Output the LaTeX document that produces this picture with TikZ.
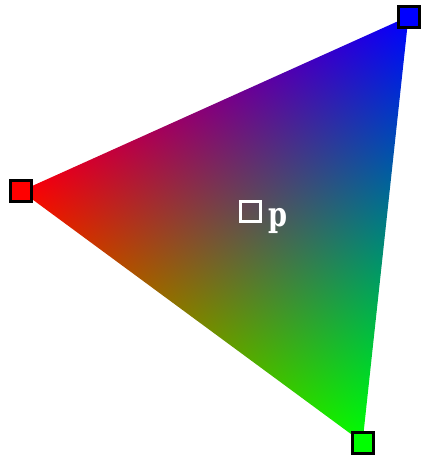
\documentclass[tikz,border=0pt]{standalone}
\usepackage{fontspec}
\newfontfamily\pfont{DejaVu Serif}
\pgfdeclarefunctionalshading{bary}{\pgfpointorigin}{\pgfpoint{100bp}{100bp}}{}{
2 copy 0.00249554 mul exch -0.0210222 mul add 1.3895085 add
3 1 roll
2 copy -0.0210222 mul exch 0.00861114 mul add 0.930832 add
3 1 roll
0.01852668 mul exch 0.01241106 mul add -1.3203405 add
}
\begin{document}
\begin{tikzpicture}[x=1pt,y=-1pt,
  vtx/.style={draw=black,line width=3pt,minimum size=21pt,inner sep=0pt,outer sep=0pt},
  probe/.style={draw=white,line width=3pt,minimum size=20pt,inner sep=0pt,outer sep=0pt}]
\useasboundingbox (0,0) rectangle (428,458);
\coordinate (R) at (21,191);
\coordinate (B) at (408.5,16.5);
\coordinate (G) at (362.5,442.5);
\shade[shading=bary] (R) -- (B) -- (G) -- cycle;
\node[vtx,fill=red] (vr) at (R) {};
\node[vtx,fill=blue] (vb) at (B) {};
\node[vtx,fill=green] (vg) at (G) {};
\node[probe] (pp) at (250.5,211.5) {};
\node[anchor=base west,inner sep=0pt,text=white,font=\pfont\bfseries\fontsize{34}{34}\selectfont,xscale=0.8] (pl) at (268.5,226) {p};
\end{tikzpicture}
\end{document}
